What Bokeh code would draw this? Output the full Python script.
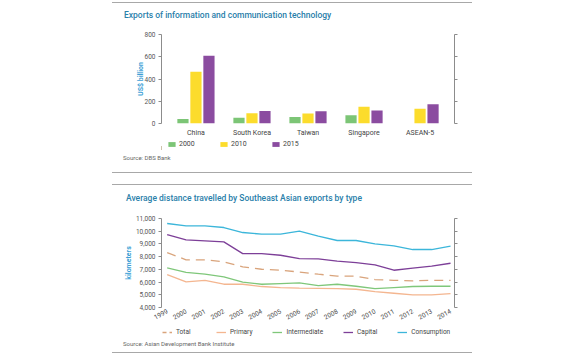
from bokeh.plotting import figure
from bokeh.models import (FactorRange, Range1d, LinearAxis, FixedTicker, NumeralTickFormatter,
                          Legend, LegendItem, Div, ColumnDataSource)
from bokeh.transform import dodge
from bokeh.layouts import column
from bokeh.embed import file_html
from bokeh.resources import INLINE

# ---------------- data ----------------
countries = ["China", "South Korea", "Taiwan", "Singapore", "ASEAN-5"]
ict_2000 = [40, 52, 58, 75, float("nan")]
ict_2010 = [465, 92, 90, 150, 132]
ict_2015 = [610, 112, 111, 116, 174]
bar_years = ["2000", "2010", "2015"]

years = list(range(1999, 2015))
total = [8320, 7750, 7750, 7590, 7190, 7010, 6930, 6790, 6620, 6460, 6460, 6200, 6140, 6090, 6140, 6140]
primary = [6590, 6010, 6140, 5830, 5830, 5650, 5570, 5530, 5510, 5490, 5435, 5250, 5120, 4990, 4990, 5090]
intermediate = [7115, 6770, 6620, 6410, 5990, 5830, 5880, 5930, 5720, 5830, 5670, 5490, 5570, 5650, 5670, 5670]
capital = [9740, 9320, 9240, 9160, 8240, 8240, 8110, 7840, 7820, 7640, 7535, 7350, 6930, 7090, 7250, 7480]
consumption = [10606, 10423, 10423, 10291, 9898, 9766, 9766, 10000, 9610, 9270, 9270, 9005, 8850, 8560, 8560, 8820]
series_names = ["Total", "Primary", "Intermediate", "Capital", "Consumption"]

title1 = "Exports of information and communication technology"
title2 = "Average distance travelled by Southeast Asian exports by type"
source1 = "Source: DBS Bank"
source2 = "Source: Asian Development Bank Institute"

# ---------------- style ----------------
FONT = "Roboto"
TITLE_C = "#2a80aa"
AXLABEL_C = "#3d9fd6"
TICK_C = "#555555"
AXIS_C = "#8c8c8c"
SEP_C = "#a8a8a8"
GREEN = "#7cc576"
YELLOW = "#fcdc2c"
PURPLE = "#8b4ca0"
BAR_COLORS = [GREEN, YELLOW, PURPLE]
LINE_COLORS = ["#d9a47c", "#f4b690", "#7fc77a", "#7d3f98", "#3cb6da"]
W = 580
BL, BR = 161, 126  # frame borders (all figures in the column share frame alignment)


def style_common(p):
    p.xgrid.visible = False
    p.ygrid.visible = False
    p.outline_line_color = None
    p.background_fill_color = "white"
    p.border_fill_color = "white"
    p.title.visible = False


def style_yaxis(ax, ticks, label=None, fmt=None, hide_labels=False, label_standoff=3):
    ax.ticker = FixedTicker(ticks=ticks)
    if fmt is not None:
        ax.formatter = fmt
    ax.axis_line_color = AXIS_C
    ax.major_tick_line_color = AXIS_C
    ax.major_tick_out = 3
    ax.major_tick_in = 0
    ax.minor_tick_line_color = None
    ax.major_label_text_font = FONT
    ax.major_label_text_font_size = "6.5px"
    ax.major_label_text_color = TICK_C
    ax.major_label_standoff = 3
    if hide_labels:
        ax.major_label_overrides = {t: "" for t in ticks}
    if label:
        ax.axis_label = label
        ax.axis_label_text_font = FONT
        ax.axis_label_text_font_size = "7px"
        ax.axis_label_text_font_style = "bold"
        ax.axis_label_text_color = AXLABEL_C
        ax.axis_label_standoff = label_standoff


def style_xaxis(ax, size, standoff):
    ax.axis_line_color = None
    ax.major_tick_line_color = None
    ax.minor_tick_line_color = None
    ax.major_tick_out = 0
    ax.major_tick_in = 0
    ax.minor_tick_out = 0
    ax.major_label_text_font = FONT
    ax.major_label_text_font_size = size
    ax.major_label_text_color = "#444444"
    ax.major_label_standoff = standoff


def text_div(text, left, h, line_h, size, color, weight="normal"):
    return Div(text=text, width=W - left - 10, height=h, margin=(0, 0, 0, left),
               styles={"font-family": FONT, "font-size": size, "color": color,
                       "font-weight": weight,
                       "line-height": f"{line_h}px", "white-space": "nowrap"})


def legend_fig(h):
    f = figure(width=W, height=h, x_range=Range1d(0, 100), y_range=Range1d(0, 1),
               x_axis_location=None, y_axis_location=None, output_backend="svg",
               toolbar_location=None, min_border_left=BL, min_border_right=BR,
               min_border_top=0, min_border_bottom=0)
    style_common(f)
    return f


def sep(top=0):
    return Div(text="", width=360, height=1, margin=(top, 0, 0, 112),
               styles={"background-color": SEP_C})


# ---------------- chart 1: bars ----------------
head1 = text_div(title1, 124, 26, 24, "8.5px", TITLE_C, "500")

p1 = figure(width=W, height=110,
            x_range=FactorRange(factors=countries, range_padding=0.115, range_padding_units="absolute"),
            y_range=Range1d(0, 800), output_backend="svg", toolbar_location=None,
            min_border_left=BL, min_border_right=BR, min_border_top=5, min_border_bottom=16)
style_common(p1)

src = ColumnDataSource(dict(country=countries, y2000=ict_2000, y2010=ict_2010, y2015=ict_2015))
for col, off, colr in zip(["y2000", "y2010", "y2015"], [-0.232, 0.0, 0.232], BAR_COLORS):
    p1.vbar(x=dodge("country", off, range=p1.x_range), top=col, width=0.2, source=src,
            fill_color=colr, line_color=None)

style_yaxis(p1.yaxis[0], [0, 200, 400, 600, 800], label="US$ billion", label_standoff=-3)
rax1 = LinearAxis()
p1.add_layout(rax1, "right")
style_yaxis(rax1, [0, 200, 400, 600, 800], hide_labels=True)
style_xaxis(p1.xaxis[0], "7px", 5)

# legend row 1 (swatch proxies sit outside the visible range)
lf1 = legend_fig(11)
sw1 = [lf1.vbar(x=[-50], top=[0.5], width=1, fill_color=c, line_color=None) for c in BAR_COLORS]
leg1 = Legend(items=[LegendItem(label=y, renderers=[r]) for y, r in zip(bar_years, sw1)],
              orientation="horizontal", location=(6, 2), glyph_width=9, glyph_height=6,
              label_height=8, label_standoff=3, spacing=20, padding=0, margin=0,
              border_line_color=None, background_fill_alpha=0,
              label_text_font=FONT, label_text_font_size="7px", label_text_color="#444444")
lf1.add_layout(leg1)

src1 = text_div(source1, 123, 22, 16, "6px", "#666666")

# ---------------- chart 2: lines ----------------
head2 = text_div(title2, 126, 28, 26, "8.5px", TITLE_C, "500")

p2 = figure(width=W, height=113,
            x_range=Range1d(1998.70, 2014.21), y_range=Range1d(4000, 11000),
            output_backend="svg", toolbar_location=None,
            min_border_left=BL, min_border_right=BR, min_border_top=5, min_border_bottom=19)
style_common(p2)

series = [total, primary, intermediate, capital, consumption]
for name, vals, col in zip(series_names, series, LINE_COLORS):
    kw = dict(line_color=col, line_width=1.3)
    if name == "Total":
        kw["line_dash"] = "9 6"
    p2.line(years, vals, **kw)

ticks2 = list(range(4000, 11001, 1000))
style_yaxis(p2.yaxis[0], ticks2, label="kilometers", fmt=NumeralTickFormatter(format="0,0"),
            label_standoff=0)
rax2 = LinearAxis()
p2.add_layout(rax2, "right")
style_yaxis(rax2, ticks2, hide_labels=True)
p2.xaxis[0].ticker = FixedTicker(ticks=years)
p2.xaxis[0].major_label_orientation = 0.5
style_xaxis(p2.xaxis[0], "6.5px", 3)

lf2 = legend_fig(14)
sw2 = []
for name, col in zip(series_names, LINE_COLORS):
    kw = dict(line_color=col, line_width=1.3)
    if name == "Total":
        kw["line_dash"] = "4 3"
    sw2.append(lf2.line(x=[-60, -50], y=[0.5, 0.5], **kw))
leg2 = Legend(items=[LegendItem(label=n, renderers=[r]) for n, r in zip(series_names, sw2)],
              orientation="horizontal", location=(1, 4), glyph_width=10, glyph_height=6,
              label_height=8, label_standoff=4, spacing=20, padding=0, margin=0,
              border_line_color=None, background_fill_alpha=0,
              label_text_font=FONT, label_text_font_size="6.5px", label_text_color="#444444")
lf2.add_layout(leg2)

src2 = text_div(source2, 123, 12, 7, "6px", "#666666")

layout = column(sep(2), head1, p1, lf1, src1, sep(0), sep(11), head2, p2, lf2, src2, sep(0),
                spacing=0)

open("out.html", "w").write(file_html(layout, INLINE))
